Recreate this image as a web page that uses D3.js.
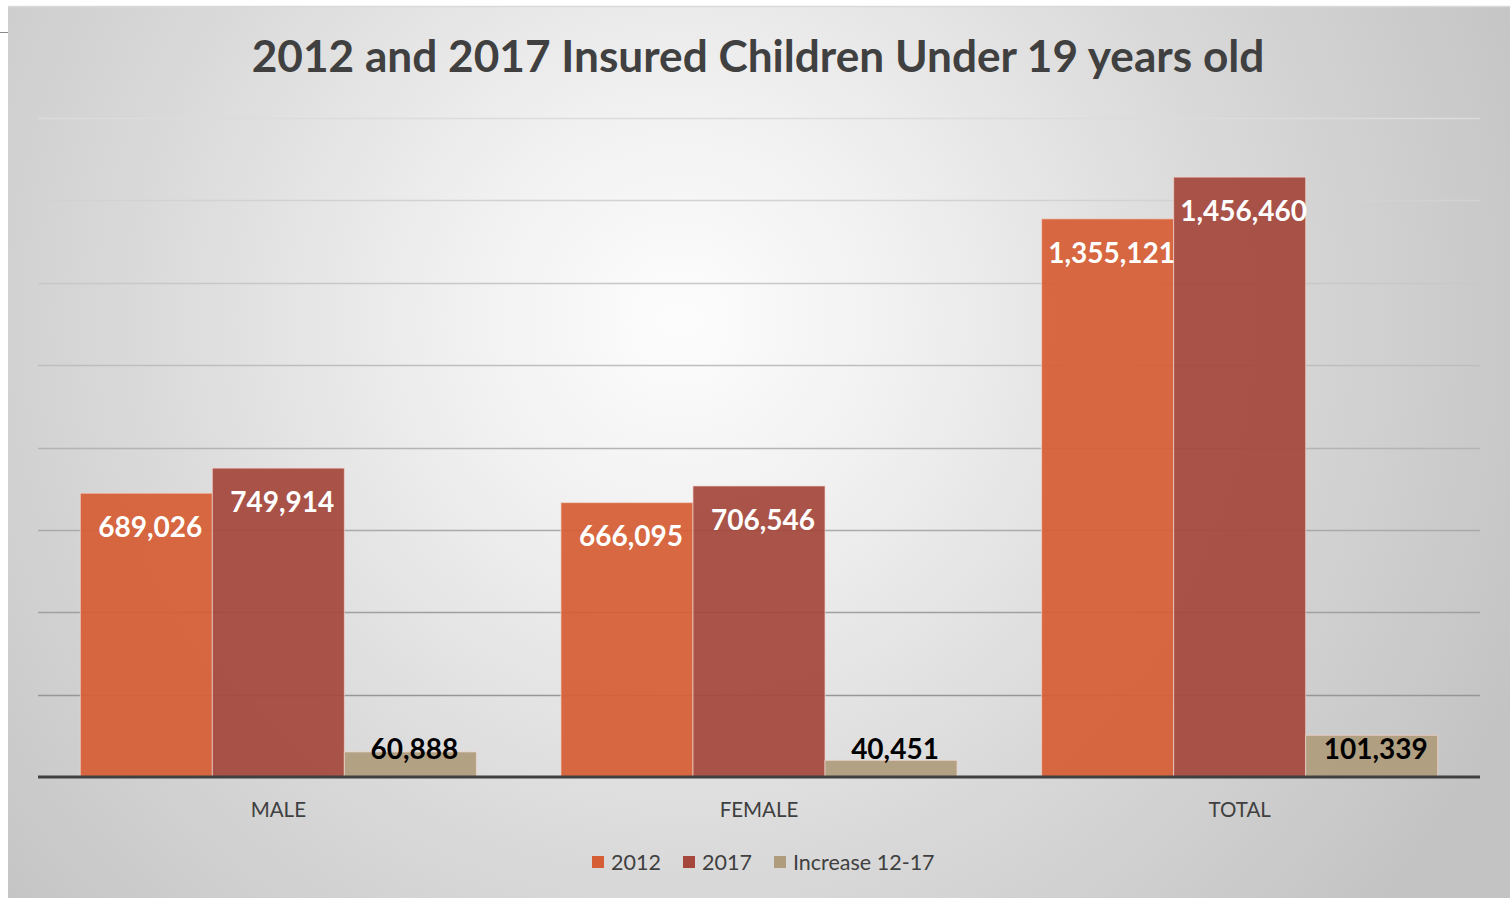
<!DOCTYPE html>
<html><head><meta charset="utf-8">
<script src="https://cdn.jsdelivr.net/npm/d3@7"></script>
<style>body{margin:0;background:#fff;overflow:hidden}svg{display:block}</style>
</head><body>
<svg id="c" width="1510" height="898"></svg>
<script>
const categories = ["MALE", "FEMALE", "TOTAL"];
const seriesNames = ["2012", "2017", "Increase 12-17"];
const values2012 = [689026, 666095, 1355121];
const values2017 = [749914, 706546, 1456460];
const valuesIncrease = [60888, 40451, 101339];
const gridTicks = [0, 200000, 400000, 600000, 800000, 1000000, 1200000, 1400000, 1600000];
const title = "2012 and 2017 Insured Children Under 19 years old";

const colors = ["#D55E34", "#A5473C", "#AE9C7C"];
const seriesValues = [values2012, values2017, valuesIncrease];

const svg = d3.select("#c");
const font = "Lato, 'Open Sans', sans-serif";

// background
const defs = svg.append("defs");
const rg = defs.append("radialGradient").attr("id", "bg")
  .attr("gradientUnits", "userSpaceOnUse").attr("cx", 680).attr("cy", 320).attr("r", 920);
rg.append("stop").attr("offset", "0").attr("stop-color", "#fdfdfd");
rg.append("stop").attr("offset", "0.25").attr("stop-color", "#f0f0f0");
rg.append("stop").attr("offset", "0.6").attr("stop-color", "#d9d9d9");
rg.append("stop").attr("offset", "1").attr("stop-color", "#c3c3c3");
svg.append("rect").attr("x", 8).attr("y", 6).attr("width", 1502).attr("height", 892).attr("fill", "url(#bg)");
svg.append("line").attr("x1", 8).attr("x2", 1510).attr("y1", 6.5).attr("y2", 6.5).attr("stroke", "#d9d9d9").attr("stroke-width", 1.5);
svg.append("line").attr("x1", 0).attr("x2", 8).attr("y1", 32.5).attr("y2", 32.5).attr("stroke", "#8a8a8a").attr("stroke-width", 1);

const plotLeft = 38, plotRight = 1480, plotTop = 118, plotBottom = 777;
const x = d3.scaleBand().domain(categories).range([plotLeft, plotRight]).paddingInner(0.176).paddingOuter(0.088);
const xs = d3.scaleBand().domain(seriesNames).range([0, x.bandwidth()]);
const y = d3.scaleLinear().domain([0, 1600000]).range([plotBottom, plotTop]);

// gridlines (lighter at top, darker toward the base)
const gridColor = d3.scaleLinear().domain([plotTop, plotBottom]).range(["#dcdcdc", "#8c8c8c"]);
svg.append("g").selectAll("line").data(gridTicks.slice(1)).join("line")
  .attr("x1", plotLeft).attr("x2", plotRight)
  .attr("y1", d => Math.round(y(d)) + 0.5).attr("y2", d => Math.round(y(d)) + 0.5)
  .attr("stroke", d => gridColor(y(d))).attr("stroke-width", 1.6);

// bars
const data = [];
categories.forEach((c, i) => seriesNames.forEach((s, j) => data.push({c, s, j, v: seriesValues[j][i]})));
svg.append("g").selectAll("rect").data(data).join("rect")
  .attr("x", d => x(d.c) + xs(d.s)).attr("width", xs.bandwidth())
  .attr("y", d => y(d.v)).attr("height", d => y(0) - y(d.v))
  .attr("fill", d => colors[d.j]).attr("fill-opacity", 0.93)
  .attr("stroke", "#f3d6cf").attr("stroke-opacity", 0.7).attr("stroke-width", 1);

// baseline
svg.append("line").attr("x1", plotLeft).attr("x2", plotRight).attr("y1", plotBottom).attr("y2", plotBottom)
  .attr("stroke", "#404040").attr("stroke-width", 3);

// labels
const fmt = d3.format(",");
svg.append("g").selectAll("text").data(data).join("text")
  .attr("x", d => x(d.c) + xs(d.s) + xs.bandwidth() / 2 + 4)
  .attr("y", d => d.j < 2 ? y(d.v) + 34 : plotBottom - 28)
  .attr("dy", "0.35em")
  .attr("text-anchor", "middle")
  .attr("font-family", font).attr("font-weight", "bold").attr("font-size", 28)
  .attr("fill", d => d.j < 2 ? "#ffffff" : "#000000")
  .text(d => fmt(d.v));

// category axis labels
svg.append("g").selectAll("text").data(categories).join("text")
  .attr("x", d => x(d) + x.bandwidth() / 2).attr("y", 810).attr("dy", "0.35em")
  .attr("text-anchor", "middle").attr("font-family", font).attr("font-size", 20.5).attr("fill", "#404040")
  .text(d => d);

// title
const t = svg.append("text").attr("x", 758).attr("y", 57).attr("dy", "0.35em")
  .attr("text-anchor", "middle").attr("font-family", font).attr("font-weight", "bold")
  .attr("font-size", 44).attr("fill", "#404040").text(title);
const tw = t.node().getComputedTextLength();
t.attr("font-size", 44 * 1013 / tw);

// legend
const legendX = [592, 683, 774];
const lg = svg.append("g");
seriesNames.forEach((s, j) => {
  lg.append("rect").attr("x", legendX[j]).attr("y", 856).attr("width", 12).attr("height", 12)
    .attr("fill", colors[j]);
  lg.append("text").attr("x", legendX[j] + 19).attr("y", 862).attr("dy", "0.35em")
    .attr("font-family", font).attr("font-size", 21.5).attr("fill", "#404040").text(s);
});
</script>
</body></html>
